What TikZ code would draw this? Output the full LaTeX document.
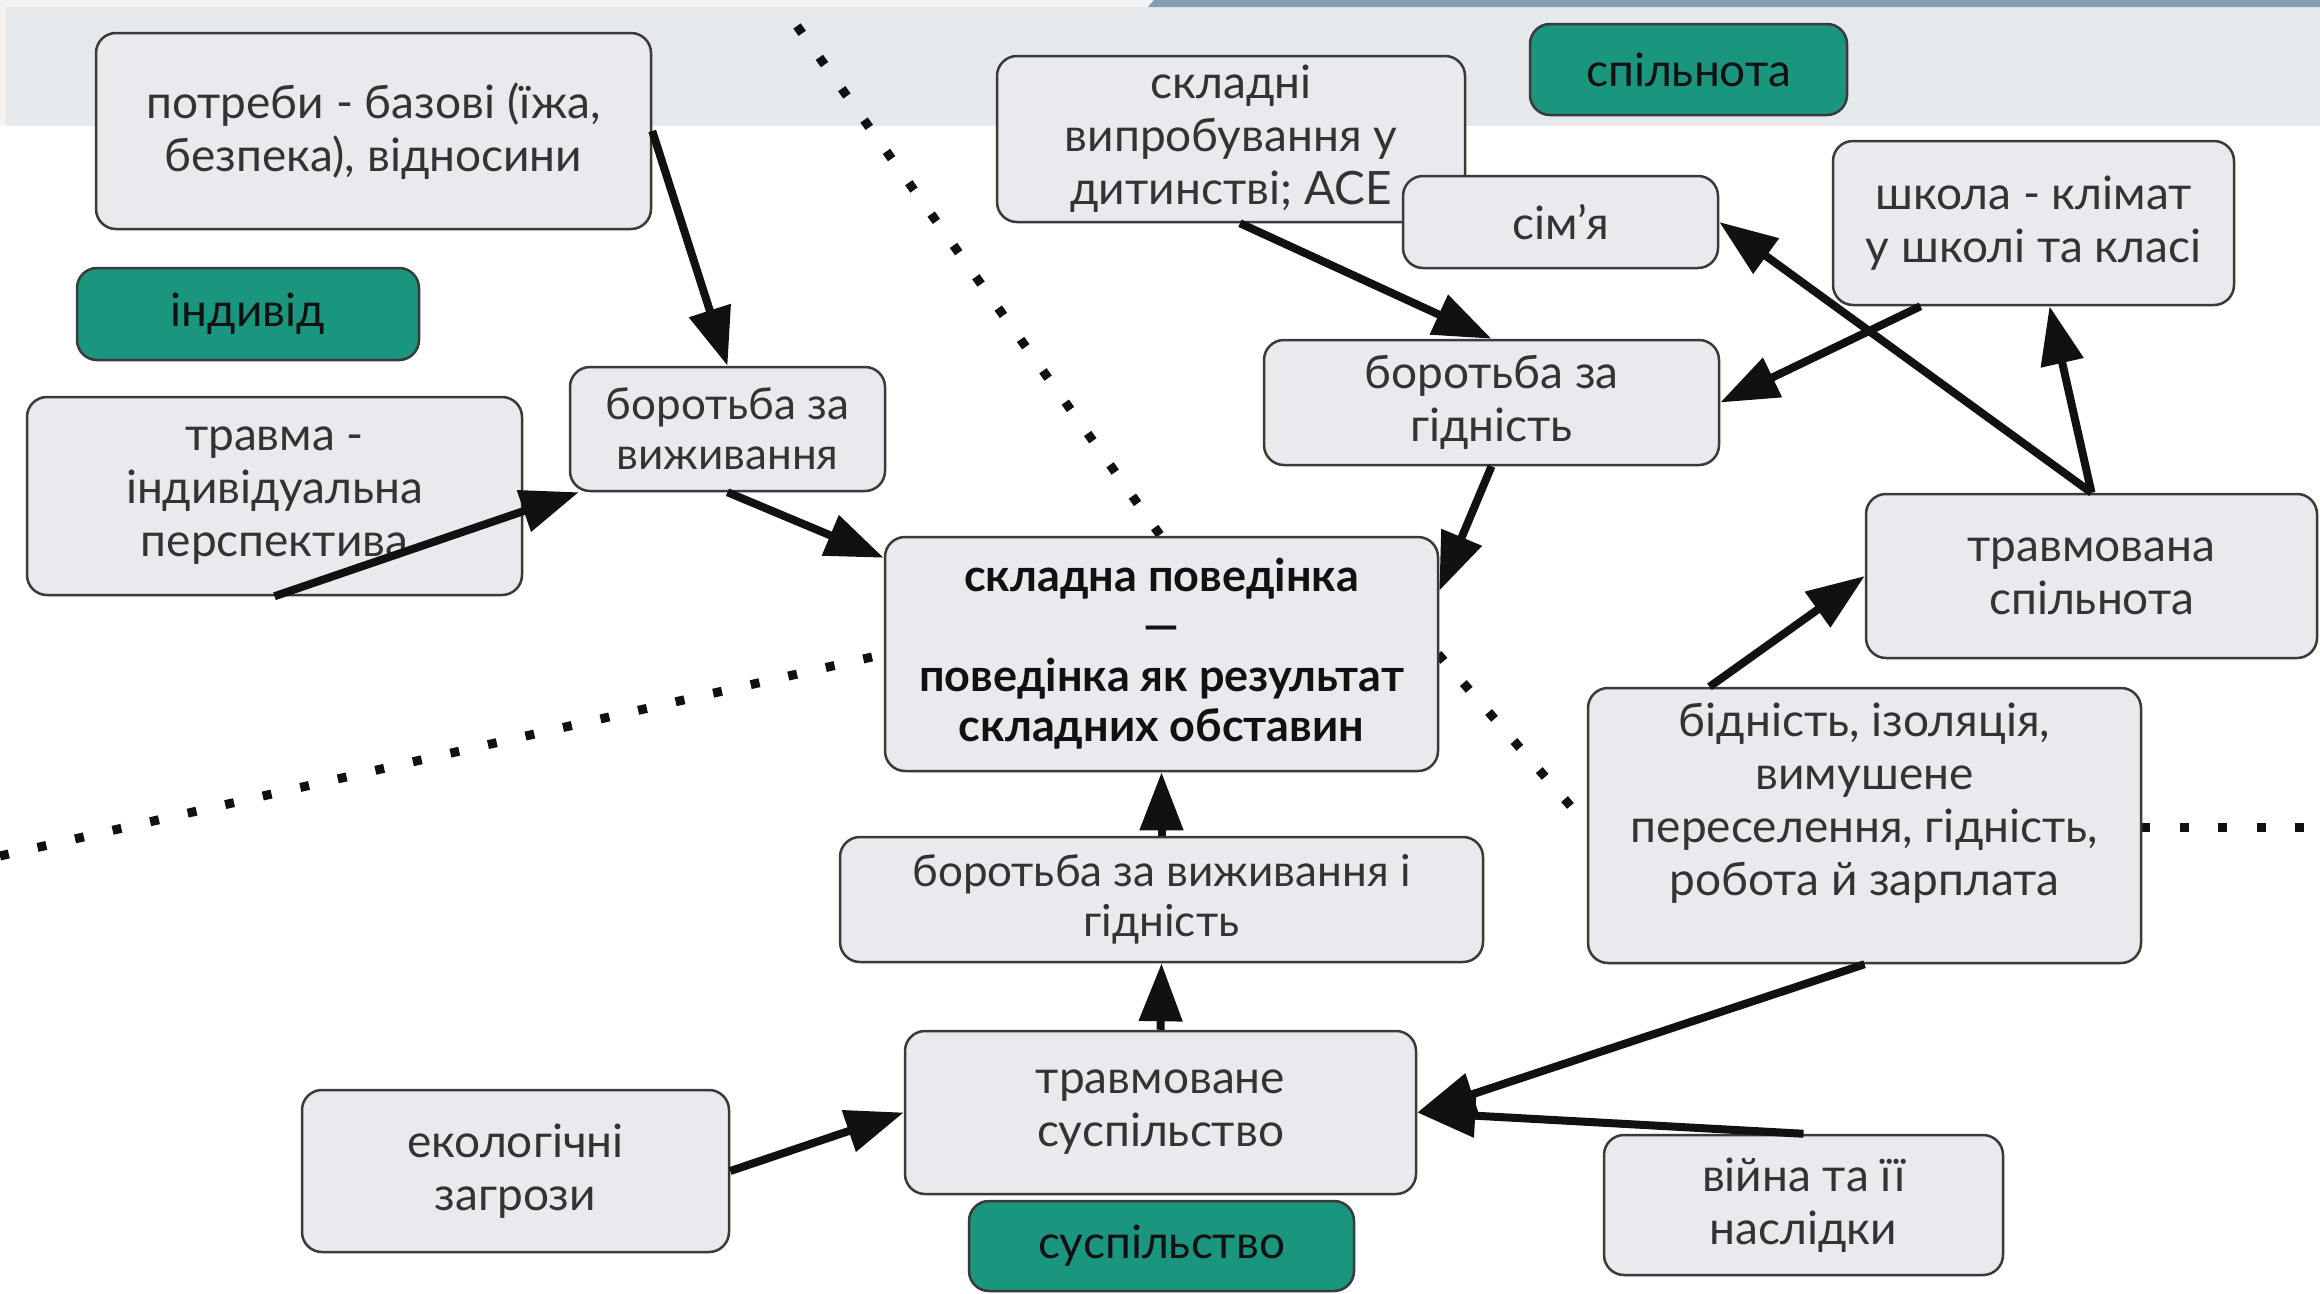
\documentclass[tikz,border=0pt]{standalone}
\usepackage{fontspec}
\setmainfont{Lato}
\usetikzlibrary{arrows.meta,calc}
\definecolor{bandgray}{HTML}{E6E9EC}
\definecolor{topstrip}{HTML}{F3F3F3}
\definecolor{bluebar}{HTML}{849DB5}
\definecolor{boxfill}{HTML}{E8EAED}
\definecolor{boxline}{HTML}{3A3A3A}
\definecolor{tealfill}{HTML}{1A967F}
\definecolor{txt}{HTML}{333333}
\definecolor{ink}{HTML}{111111}
\begin{document}
\begin{tikzpicture}[x=1pt,y=-1pt,
  bx/.style={rectangle, rounded corners=20pt, draw=boxline, line width=2.5pt,
    fill=boxfill, align=center, text=txt, inner sep=0pt,
    font=\fontsize{46}{53}\selectfont},
  tealbx/.style={bx, fill=tealfill, text=ink},
  smalltxt/.style={font=\fontsize{44}{50}\selectfont},
  boldtxt/.style={font=\fontsize{45}{50}\selectfont\bfseries, text=ink},
  wh/.style 2 args={minimum width=#1pt, minimum height=#2pt},
  arr/.style={draw=ink, line width=8pt, -{Triangle[length=58pt,width=42pt]}},
  dotline/.style={draw=ink, line width=9pt, dash pattern=on 9pt off 29.5pt}
]
\useasboundingbox (0,0) rectangle (2320,1293);
% background
\fill[white] (0,0) rectangle (2320,1293);
\fill[topstrip] (0,0) rectangle (2320,7);
\fill[topstrip] (0,7) rectangle (6,126);
\fill[bandgray] (6,7) rectangle (2320,126);
\fill[bluebar] (1148,7) -- (1154,0) -- (2320,0) -- (2320,7) -- cycle;

% coordinates for free ends of dotted lines
\coordinate (d1start) at (797,26);
\coordinate (d3start) at (0,856);
\coordinate (d2end) at (1588,826);
\coordinate (d4start) at (2141,827);
\coordinate (d4end) at (2320,827);

% nodes
\node[bx, wh={555}{196}] (potr) at (373.5,131) {потреби - базові (їжа,\\безпека), відносини};
\node[tealbx, wh={342}{92}] (indyvid) at (248,314) {індивід};
\node[bx, wh={495}{198}] (travma) at (274.5,496) {травма -\\індивідуальна\\перспектива};
\node[bx, smalltxt, wh={315}{124}] (bviz) at (727.5,429) {боротьба за\\виживання};

% dotted lines (behind boxes)
\coordinate (cenN) at (1161.5,537);
\coordinate (cenW) at (885,654);
\coordinate (cenE) at (1438,654);
\draw[dotline] (d1start) -- (cenN);
\draw[dotline] (d3start) -- (cenW);
\draw[dotline] (cenE) -- (d2end);
\draw[dotline] (d4start) -- (d4end);

\node[bx, boldtxt, wh={553}{234}] (cen) at (1161.5,654) {складна поведінка\\—\\поведінка як результат\\складних обставин};
\node[bx, wh={468}{166}] (skl) at (1231,139) {складні\\випробування у\\дитинстві; ACE};
\node[bx, wh={315}{92}] (sim) at (1560.5,222) {сім’я};
\node[tealbx, wh={317}{91}] (spil) at (1688.5,69.5) {спільнота};
\node[bx, wh={401}{164}] (shk) at (2033.5,223) {школа - клімат\\у школі та класі};
\node[bx, wh={455}{125}] (bgid) at (1491.5,402.5) {боротьба за\\гідність};
\node[bx, wh={451}{164}] (trsp) at (2091.5,576) {травмована\\спільнота};
\node[bx, wh={553}{275}] (bid) at (1864.5,825.5) {бідність, ізоляція,\\вимушене\\переселення, гідність,\\робота й зарплата\\\mbox{}};
\node[bx, smalltxt, wh={643}{125}] (bvg) at (1161.5,899.5) {боротьба за виживання і\\гідність};
\node[bx, wh={511}{163}] (trsus) at (1160.5,1112.5) {травмоване\\суспільство};
\node[tealbx, wh={385}{90}] (susp) at (1161.5,1246) {суспільство};
\node[bx, wh={427}{162}] (eko) at (515.5,1171) {екологічні\\загрози};
\node[bx, wh={399}{140}] (vijna) at (1803.5,1205) {війна та її\\наслідки};

% arrows
\draw[arr] (potr.east) -- (bviz.north);
\draw[arr] (travma.south) -- ([xshift=10pt]bviz.south west);
\draw[arr] (bviz.south) -- ([yshift=-22pt]cen.north west);
\draw[arr] ([xshift=9pt]skl.south) -- (bgid.north);
\draw[arr] ([xshift=-113pt]shk.south) -- (bgid.east);
\draw[arr] (bgid.south) -- ([yshift=-55pt]cen.north east);
\draw[arr] (trsp.north) -- (sim.east);
\draw[arr] (trsp.north) -- ([xshift=16pt]shk.south);
\draw[arr] ([xshift=-155pt]bid.north) -- (trsp.west);
\draw[arr] (bid.south) -- (trsus.east);
\draw[arr] (vijna.north) -- (trsus.east);
\draw[arr] (eko.east) -- (trsus.west);
\draw[arr] (trsus.north) -- (bvg.south);
\draw[arr] (bvg.north) -- (cen.south);
\end{tikzpicture}
\end{document}
